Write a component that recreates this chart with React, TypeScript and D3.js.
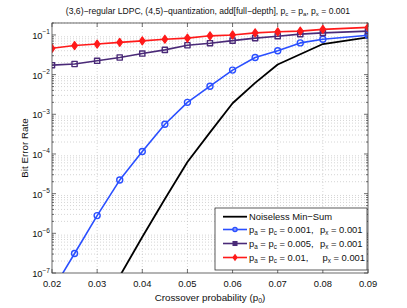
import { useMemo } from "react";
import * as d3 from "d3";

const W = 407;
const H = 308;

// crossover probabilities
const pBlack = [0.035, 0.04, 0.045, 0.05, 0.055, 0.06, 0.065, 0.07, 0.08, 0.09];
const berBlack = [8.3e-8, 8.1e-7, 7.3e-6, 6.3e-5, 3.5e-4, 1.9e-3, 6.2e-3, 0.018, 0.059, 0.087];

const pSeries = [0.02, 0.025, 0.03, 0.035, 0.04, 0.045, 0.05, 0.055, 0.06, 0.065, 0.07, 0.075, 0.08, 0.09];
const berBlue = [3.5e-8, 3.1e-7, 2.8e-6, 2.2e-5, 1.15e-4, 5.6e-4, 2.0e-3, 5.1e-3, 0.013, 0.027, 0.04, 0.063, 0.078, 0.098];
const berPurple = [0.0173, 0.0185, 0.0223, 0.027, 0.034, 0.042, 0.055, 0.062, 0.072, 0.083, 0.093, 0.105, 0.113, 0.125];
const berRed = [0.046, 0.054, 0.059, 0.065, 0.071, 0.078, 0.083, 0.095, 0.1, 0.113, 0.12, 0.125, 0.138, 0.155];

const xTicks = [0.02, 0.03, 0.04, 0.05, 0.06, 0.07, 0.08, 0.09];
const yExponents = [-7, -6, -5, -4, -3, -2, -1];

const legendLabels = [
  "Noiseless Min\u2212Sum",
  ["0.001,", "0.001"],
  ["0.005,", "0.001"],
  ["0.01,", "0.001"],
];

const FONT = "'Liberation Sans', Arial, Helvetica, sans-serif";
const BLUE = "#2a4fff";
const PURPLE = "#4a2a78";
const RED = "#ff1a1a";

const M = { left: 52, right: 368, top: 23, bottom: 273 };

export default function App() {
  const x = useMemo(() => d3.scaleLinear().domain([0.02, 0.09]).range([M.left, M.right]), []);
  const y = useMemo(() => d3.scaleLog().domain([1e-7, 0.2]).range([M.bottom, M.top]), []);

  const line = d3
    .line<[number, number]>()
    .x((d) => x(d[0]))
    .y((d) => y(d[1]));

  const minor: number[] = [];
  for (let e = -7; e <= -1; e++) {
    for (let k = 2; k <= 9; k++) {
      const v = k * Math.pow(10, e);
      if (v <= 0.2) minor.push(v);
    }
  }

  const zip = (xs: number[], ys: number[]) => xs.map((v, i) => [v, ys[i]] as [number, number]);
  const black = zip(pBlack, berBlack);
  const blue = zip(pSeries, berBlue);
  const purple = zip(pSeries, berPurple);
  const red = zip(pSeries, berRed);

  const inPlot = (d: [number, number]) => d[1] >= 1e-7;

  const circle = (cx: number, cy: number, k: string, s = 1) => (
    <circle key={k} cx={cx} cy={cy} r={3 * s} fill={s < 1 ? "#7f95ff" : "none"} stroke={BLUE} strokeWidth={1.4} />
  );
  const square = (cx: number, cy: number, k: string, s = 1) => (
    <rect
      key={k}
      x={cx - 2.6 * s}
      y={cy - 2.6 * s}
      width={5.2 * s}
      height={5.2 * s}
      fill={s < 1 ? PURPLE : "none"}
      stroke={PURPLE}
      strokeWidth={1.4}
    />
  );
  const diamond = (cx: number, cy: number, k: string, s = 1) => (
    <path
      key={k}
      d={`M${cx},${cy - 4 * s}L${cx + 2.8 * s},${cy}L${cx},${cy + 4 * s}L${cx - 2.8 * s},${cy}Z`}
      fill={RED}
      stroke={RED}
      strokeWidth={1.2}
    />
  );

  const lgX = 215;
  const lgY = 208;
  const rowY = [216.7, 229.5, 243.5, 257.5];

  return (
    <svg
      width={W}
      height={H}
      style={{ position: "absolute", left: 0, top: 0, background: "#fff" }}
      fontFamily={FONT}
    >
      <defs>
        <clipPath id="plotClip">
          <rect x={M.left} y={M.top} width={M.right - M.left} height={M.bottom - M.top} />
        </clipPath>
      </defs>
      <rect x={M.left} y={M.top} width={M.right - M.left} height={M.bottom - M.top} fill="#fff" />

      {/* grid */}
      <g stroke="#b8b8b8" strokeWidth={0.6} strokeDasharray="1,2">
        {minor.map((v) => (
          <line key={`m${v}`} x1={M.left} x2={M.right} y1={y(v)} y2={y(v)} />
        ))}
        {xTicks.slice(1, -1).map((v) => (
          <line key={`x${v}`} x1={x(v)} x2={x(v)} y1={M.top} y2={M.bottom} />
        ))}
      </g>

      {/* ticks */}
      <g stroke="#333" strokeWidth={0.7}>
        {xTicks.map((v) => (
          <g key={`xt${v}`}>
            <line x1={x(v)} x2={x(v)} y1={M.bottom} y2={M.bottom - 4} />
            <line x1={x(v)} x2={x(v)} y1={M.top} y2={M.top + 4} />
          </g>
        ))}
        {yExponents.map((e) => (
          <g key={`yt${e}`}>
            <line x1={M.left} x2={M.left + 4} y1={y(Math.pow(10, e))} y2={y(Math.pow(10, e))} />
            <line x1={M.right} x2={M.right - 4} y1={y(Math.pow(10, e))} y2={y(Math.pow(10, e))} />
          </g>
        ))}
        {minor.map((v) => (
          <g key={`mt${v}`}>
            <line x1={M.left} x2={M.left + 2} y1={y(v)} y2={y(v)} />
            <line x1={M.right} x2={M.right - 2} y1={y(v)} y2={y(v)} />
          </g>
        ))}
      </g>

      {/* series */}
      <g clipPath="url(#plotClip)" fill="none" strokeLinejoin="round">
        <path d={line(black) ?? ""} stroke="#000" strokeWidth={1.8} />
        <path d={line(blue) ?? ""} stroke={BLUE} strokeWidth={1.6} />
        <path d={line(purple) ?? ""} stroke={PURPLE} strokeWidth={1.6} />
        <path d={line(red) ?? ""} stroke={RED} strokeWidth={1.6} />
        {blue.filter(inPlot).map((d, i) => circle(x(d[0]), y(d[1]), `b${i}`))}
        {purple.map((d, i) => square(x(d[0]), y(d[1]), `p${i}`))}
        {red.map((d, i) => diamond(x(d[0]), y(d[1]), `r${i}`))}
      </g>

      {/* axes box */}
      <rect
        x={M.left}
        y={M.top}
        width={M.right - M.left}
        height={M.bottom - M.top}
        fill="none"
        stroke="#444"
        strokeWidth={0.8}
      />

      {/* tick labels */}
      <g fontSize={9.4} fill="#111">
        {xTicks.map((v) => (
          <text key={`xl${v}`} x={x(v)} y={287} textAnchor="middle">
            {v.toFixed(2)}
          </text>
        ))}
        {yExponents.map((e) => (
          <text key={`yl${e}`} x={50} y={y(Math.pow(10, e)) + 4} textAnchor="end">
            10
            <tspan dy={-4.5} fontSize={6.5}>
              {`\u2212${-e}`}
            </tspan>
          </text>
        ))}
      </g>

      {/* title and axis labels */}
      <text x={208} y={14} textAnchor="middle" fontSize={8.6} fill="#111">
        (3,6)−regular LDPC, (4,5)−quantization, add[full−depth], p
        <tspan dy={2} fontSize={6}>c</tspan>
        <tspan dy={-2}> = p</tspan>
        <tspan dy={2} fontSize={6}>a</tspan>
        <tspan dy={-2}>, p</tspan>
        <tspan dy={2} fontSize={6}>x</tspan>
        <tspan dy={-2}> = 0.001</tspan>
      </text>
      <text x={210} y={301} textAnchor="middle" fontSize={9.8} fill="#111">
        Crossover probability (p
        <tspan dy={2} fontSize={7}>0</tspan>
        <tspan dy={-2}>)</tspan>
      </text>
      <text
        transform={`translate(28,${(M.top + M.bottom) / 2}) rotate(-90)`}
        textAnchor="middle"
        fontSize={9.8}
        fill="#111"
      >
        Bit Error Rate
      </text>

      {/* legend */}
      <rect x={lgX} y={lgY} width={M.right - 1 - lgX} height={62} fill="#fff" stroke="#333" strokeWidth={0.8} />
      <g fontSize={9.4} fill="#111">
        <line x1={lgX + 8} x2={lgX + 32} y1={rowY[0]} y2={rowY[0]} stroke="#000" strokeWidth={1.8} />
        <text x={lgX + 34} y={rowY[0] + 3.3}>
          {legendLabels[0] as string}
        </text>
        {[
          { c: BLUE, mk: circle, px: 320 },
          { c: PURPLE, mk: square, px: 320 },
          { c: RED, mk: diamond, px: 322.5 },
        ].map((s, i) => {
          const yy = rowY[i + 1];
          const lab = legendLabels[i + 1] as string[];
          return (
            <g key={`lg${i}`}>
              <line x1={lgX + 8} x2={lgX + 32} y1={yy} y2={yy} stroke={s.c} strokeWidth={1.6} />
              {s.mk(lgX + 20, yy, `lm${i}`, 0.7)}
              <text x={lgX + 34} y={yy + 3.3}>
                p<tspan dy={2} fontSize={6.3}>a</tspan>
                <tspan dy={-2}> = p</tspan>
                <tspan dy={2} fontSize={6.3}>c</tspan>
                <tspan dy={-2}>{` = ${lab[0]}`}</tspan>
              </text>
              <text x={s.px} y={yy + 3.3}>
                p<tspan dy={2} fontSize={6.3}>x</tspan>
                <tspan dy={-2}>{` = ${lab[1]}`}</tspan>
              </text>
            </g>
          );
        })}
      </g>
    </svg>
  );
}
